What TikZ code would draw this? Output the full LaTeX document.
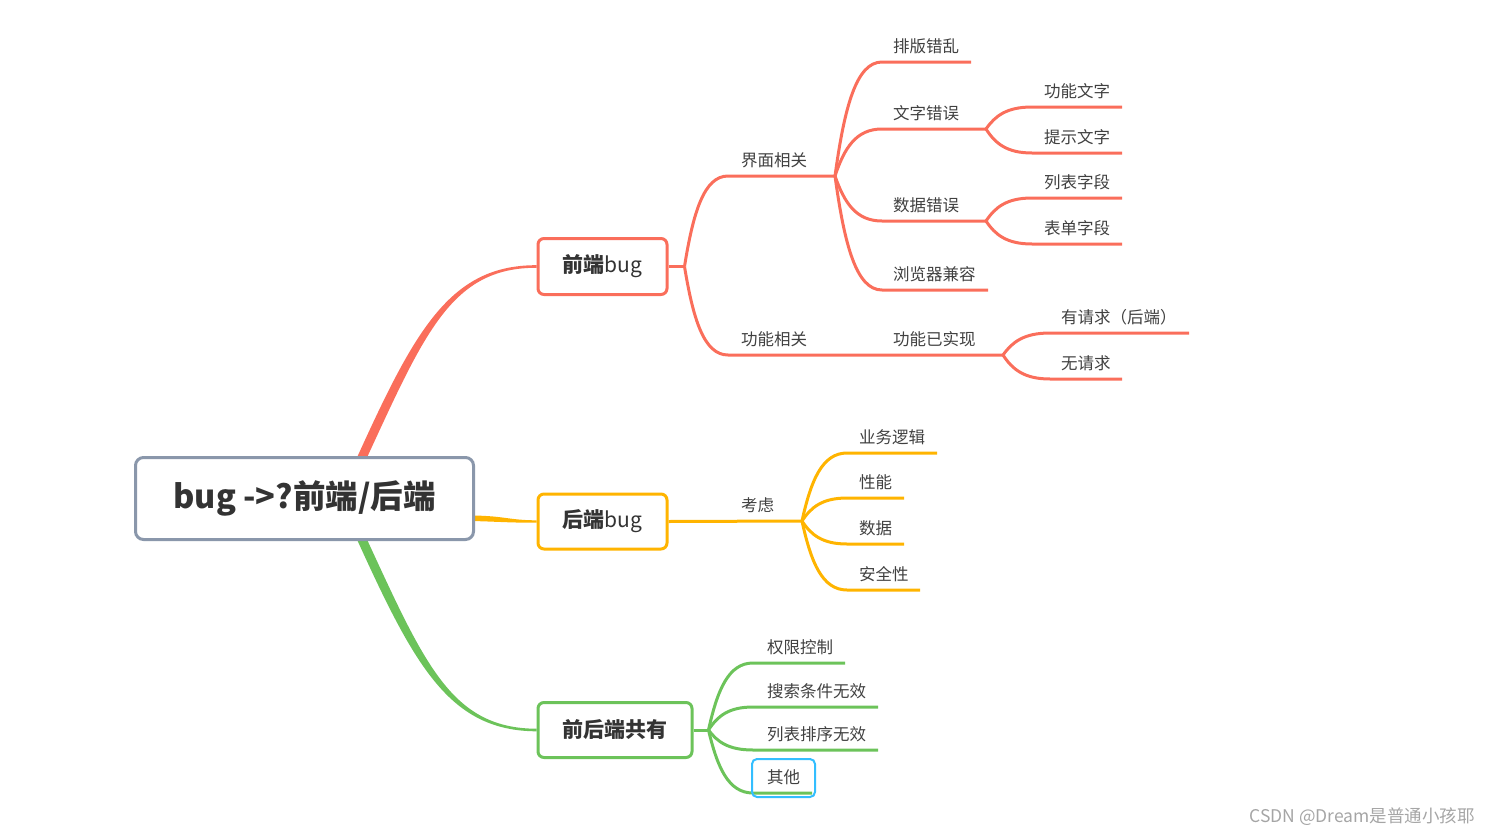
\documentclass[tikz,border=0pt]{standalone}
\usepackage{fontspec}
\setmainfont{Noto Sans CJK SC}
\usetikzlibrary{calc,backgrounds}
\definecolor{cred}{RGB}{250,110,91}
\definecolor{cor}{RGB}{255,180,0}
\definecolor{cgr}{RGB}{108,195,90}
\definecolor{cgray}{RGB}{138,151,171}
\definecolor{cblue}{RGB}{51,190,255}
\definecolor{cdark}{RGB}{51,51,51}
\definecolor{ctext}{RGB}{64,64,64}
\definecolor{cwm}{RGB}{165,165,165}
\begin{document}
\begin{tikzpicture}[x=1pt,y=-1pt,
  mm/.style={to path={.. controls ($(\tikztostart)!0.5!(\tikztostart|-\tikztotarget)!0.2!(\tikztotarget)$) and ($(\tikztotarget)!0.55!(\tikztostart|-\tikztotarget)$) .. (\tikztotarget)}},
  br/.style={line width=3pt},
  lbl/.style={anchor=base west, inner sep=0pt, font=\fontsize{16.5}{20}\selectfont, text=ctext},
  box/.style={draw, line width=3pt, rounded corners=6pt, fill=white, text=cdark, inner sep=0pt, font=\bfseries\fontsize{21}{25}\selectfont},
]
\useasboundingbox (0,0) rectangle (1491,835);

% main nodes
\node[box, draw=cgray, rounded corners=8pt, minimum width=338pt, minimum height=82pt, font=\bfseries\fontsize{32.5}{38}\selectfont] (root) at (304.5,498.5) {bug ->?前端/后端};
\node[box, draw=cred, minimum width=129pt, minimum height=56pt] (fe) at (602.5,266.5) {前端{\mdseries bug}};
\node[box, draw=cor, minimum width=129pt, minimum height=55pt] (be) at (602.5,521.5) {后端{\mdseries bug}};
\node[box, draw=cgr, minimum width=154pt, minimum height=55pt] (both) at (615,730) {前后端共有};

% red coordinates
\coordinate (j1) at ($(fe.east)+(16,0)$);
\coordinate (a1) at (728,176); \coordinate (j2) at (835,176);
\coordinate (a2) at (728,355); \coordinate (j3) at (1003,355);
\coordinate (p1) at (882,62);  \coordinate (q1) at (971,62);
\coordinate (p2) at (882,129); \coordinate (j4) at (986,129);
\coordinate (p3) at (882,221); \coordinate (j5) at (986,221);
\coordinate (p4) at (882,290); \coordinate (q4) at (988,290);
\coordinate (p5) at (1032,107); \coordinate (q5) at (1122,107);
\coordinate (p6) at (1032,153); \coordinate (q6) at (1122,153);
\coordinate (p7) at (1032,198); \coordinate (q7) at (1122,198);
\coordinate (p8) at (1032,244); \coordinate (q8) at (1122,244);
\coordinate (p9) at (1050,333); \coordinate (q9) at (1189,333);
\coordinate (p10) at (1050,379); \coordinate (q10) at (1122,379);

% orange coordinates
\coordinate (j6) at (802,521);
\coordinate (o1) at (847,453); \coordinate (r1) at (937,453);
\coordinate (o2) at (847,498); \coordinate (r2) at (904,498);
\coordinate (o3) at (847,544); \coordinate (r3) at (904,544);
\coordinate (o4) at (847,590); \coordinate (r4) at (920,590);

% green coordinates
\coordinate (j7) at ($(both.east)+(15,0)$);
\coordinate (g1) at (753,663); \coordinate (h1) at (845,663);
\coordinate (g2) at (753,707); \coordinate (h2) at (878,707);
\coordinate (g3) at (753,750); \coordinate (h3) at (878,750);
\coordinate (g4) at (753,793); \coordinate (h4) at (812,793);

% labels red
\node[lbl] (t1) at (741,166) {界面相关};
\node[lbl] (t2) at (893,52) {排版错乱};
\node[lbl] (t3) at (893,119) {文字错误};
\node[lbl] (t4) at (893,211) {数据错误};
\node[lbl] (t5) at (893,280) {浏览器兼容};
\node[lbl] (t6) at (1044,97) {功能文字};
\node[lbl] (t7) at (1044,143) {提示文字};
\node[lbl] (t8) at (1044,188) {列表字段};
\node[lbl] (t9) at (1044,234) {表单字段};
\node[lbl] (t10) at (741,345) {功能相关};
\node[lbl] (t11) at (893,345) {功能已实现};
\node[lbl] (t12) at (1061,323) {有请求（后端）};
\node[lbl] (t13) at (1061,369) {无请求};
% labels orange
\node[lbl] (u0) at (741,511) {考虑};
\node[lbl] (u1) at (859,443) {业务逻辑};
\node[lbl] (u2) at (859,488) {性能};
\node[lbl] (u3) at (859,534) {数据};
\node[lbl] (u4) at (859,580) {安全性};
% labels green
\node[lbl] (v1) at (767,653) {权限控制};
\node[lbl] (v2) at (767,697) {搜索条件无效};
\node[lbl] (v3) at (767,740) {列表排序无效};
\node[lbl] (v4) at (767,783) {其他};
\node[draw=cblue, line width=2pt, rounded corners=5pt, minimum width=63pt, minimum height=38pt, inner sep=0pt] (vbox) at (783.5,778) {};

% watermark
\node[anchor=base east, inner sep=0pt, text=cwm, font=\fontsize{17.5}{20}\selectfont] (wm) at (1475,822) {CSDN @Dream是普通小孩耶};

\begin{scope}[on background layer]
  % tapered main branches
  \fill[cred] ($(root.north)+(52.5,1.5)$) .. controls (415,330) and (450,265) .. ($(fe.west)+(0,-1.3)$)
     -- ($(fe.west)+(0,1.3)$) .. controls (452,267.5) and (425,332) .. ($(root.north)+(62.5,1.5)$) -- cycle;
  \fill[cgr] ($(root.south)+(52.5,-1.5)$) .. controls (415,667) and (450,731) .. ($(both.west)+(0,1.3)$)
     -- ($(both.west)+(0,-1.3)$) .. controls (452,728.5) and (425,665) .. ($(root.south)+(62.5,-1.5)$) -- cycle;
  \fill[cor] ($(root.east)+(-2,17)$) .. controls (505,516) and (510,520.3) .. ($(be.west)+(0,-1.2)$)
     -- ($(be.west)+(0,1.2)$) .. controls (510,522.7) and (505,522) .. ($(root.east)+(-2,22.5)$) -- cycle;

  % red subtree
  \draw[br,cred] (fe.east) -- (j1);
  \draw[br,cred] (j1) to[mm] (a1) -- (j2);
  \draw[br,cred] (j1) to[mm] (a2) -- (j3);
  \draw[br,cred] (j2) to[mm] (p1) -- (q1);
  \draw[br,cred] (j2) to[mm] (p2) -- (j4);
  \draw[br,cred] (j2) to[mm] (p3) -- (j5);
  \draw[br,cred] (j2) to[mm] (p4) -- (q4);
  \draw[br,cred] (j4) to[mm] (p5) -- (q5);
  \draw[br,cred] (j4) to[mm] (p6) -- (q6);
  \draw[br,cred] (j5) to[mm] (p7) -- (q7);
  \draw[br,cred] (j5) to[mm] (p8) -- (q8);
  \draw[br,cred] (j3) to[mm] (p9) -- (q9);
  \draw[br,cred] (j3) to[mm] (p10) -- (q10);

  % orange subtree
  \draw[br,cor] (be.east) -- (j6);
  \draw[br,cor] (j6) to[mm] (o1) -- (r1);
  \draw[br,cor] (j6) to[mm] (o2) -- (r2);
  \draw[br,cor] (j6) to[mm] (o3) -- (r3);
  \draw[br,cor] (j6) to[mm] (o4) -- (r4);

  % green subtree
  \draw[br,cgr] (both.east) -- (j7);
  \draw[br,cgr] (j7) to[mm] (g1) -- (h1);
  \draw[br,cgr] (j7) to[mm] (g2) -- (h2);
  \draw[br,cgr] (j7) to[mm] (g3) -- (h3);
  \draw[br,cgr] (j7) to[mm] (g4) -- (h4);
\end{scope}
\end{tikzpicture}
\end{document}
